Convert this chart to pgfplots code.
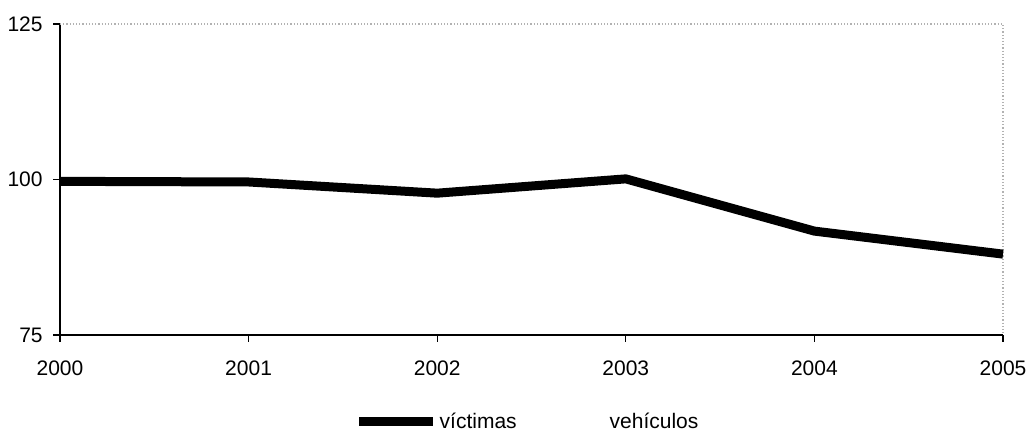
\documentclass[border=0pt]{standalone}
\usepackage{pgfplots}
\pgfplotsset{compat=1.18}
\usepackage{fontspec}
\setmainfont{Liberation Sans}

\pgfplotstableread{
year value
2000 99.7
2001 99.6
2002 97.8
2003 100.1
2004 91.7
2005 88.0
}\victimas

\begin{document}
\begin{tikzpicture}
\fontsize{10.5}{12.6}\selectfont
\begin{axis}[
  name=ax,
  scale only axis,
  width=471.5pt, height=155.5pt,
  xmin=2000, xmax=2005,
  ymin=75, ymax=125,
  xtick={2000,2001,2002,2003,2004,2005},
  ytick={75,100,125},
  axis lines*=left,
  axis line style={black, line width=0.8pt},
  tick align=outside,
  major tick length=3.5pt,
  tick style={black, line width=0.6pt},
  /pgf/number format/assume math mode=true,
  /pgf/number format/1000 sep={},
  tick label style={font=\fontsize{10.5}{12.6}\selectfont},
  yticklabel style={xshift=-1.5pt},
  xticklabel style={yshift=-5.5pt},
  clip=false,
  legend columns=2,
  legend style={
    draw=none, fill=none,
    at={(0.4958,-0.2797)}, anchor=center,
    font=\fontsize{10.5}{12.6}\selectfont,
    inner sep=0pt,
    nodes={inner sep=1pt},
    /tikz/every even column/.append style={column sep=3.5pt},
  },
  legend image code/.code={\draw[#1] (0pt,0pt) -- (37pt,0pt);},
]
% plot frame on top and right in light grey
\draw[black!30, line width=0.6pt, densely dotted]
  (rel axis cs:0,1) -- (rel axis cs:1,1) -- (rel axis cs:1,0);

\addplot[black, line width=4.5pt, line join=round] table[x=year, y=value] {\victimas};
\addlegendentry{víctimas}
\addlegendimage{white, line width=4pt}
\addlegendentry{vehículos}
\end{axis}
\pgfresetboundingbox
\path ([shift={(-30pt,-49.5pt)}]ax.south west) rectangle ([shift={(12.5pt,12pt)}]ax.north east);
\end{tikzpicture}
\end{document}
